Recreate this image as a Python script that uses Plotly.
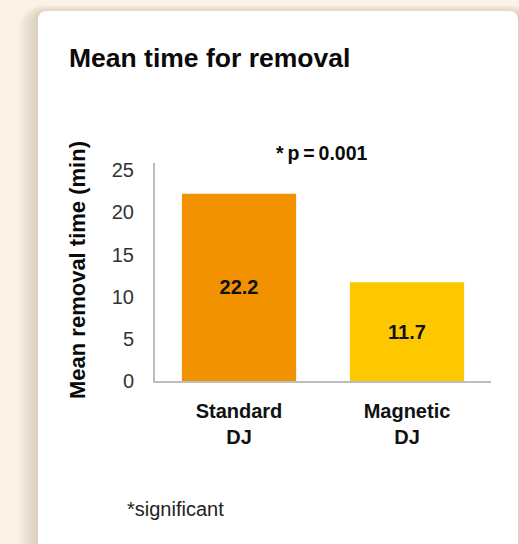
import plotly.graph_objects as go

# ---- data ----
categories = ["Standard DJ", "Magnetic DJ"]
tick_labels = ["<b>Standard</b><br><b>DJ</b>", "<b>Magnetic</b><br><b>DJ</b>"]
mean_time = [22.2, 11.7]
value_labels = ["<b>22.2</b>", "<b>11.7</b>"]
bar_colors = ["#F39200", "#FDC800"]
y_ticks = [0, 5, 10, 15, 20, 25]

title_text = "<b>Mean time for removal</b>"
y_title = "<b>Mean removal time (min)</b>"
p_text = "<b>*\u2009p\u2009=\u20090.001</b>"
note_text = "*significant"

# ---- geometry (pixels) ----
W, H = 519, 544
L, R, T, B = 155, 491, 163, 381


def px(x):
    return (x - L) / (R - L)


def py(y):
    return (B - y) / (B - T)


def rounded_path(x0, y0, x1, y1, r):
    pts = [
        f"M {px(x0)},{py(y1)}",
        f"L {px(x0)},{py(y0 + r)}",
        f"Q {px(x0)},{py(y0)} {px(x0 + r)},{py(y0)}",
        f"L {px(x1 - r)},{py(y0)}",
        f"Q {px(x1)},{py(y0)} {px(x1)},{py(y0 + r)}",
        f"L {px(x1)},{py(y1)}",
        "Z",
    ]
    return " ".join(pts)


FONT = "Liberation Sans, Arial, Helvetica, sans-serif"

fig = go.Figure()
fig.add_trace(go.Bar(
    x=categories,
    y=mean_time,
    marker=dict(color=bar_colors, line=dict(width=0)),
    width=0.68,
    text=value_labels,
    textposition="inside",
    insidetextanchor="middle",
    textangle=0,
    constraintext="none",
    textfont=dict(family=FONT, size=20, color="#111111"),
    hoverinfo="skip",
))

shapes = []
# soft shadow of the card
for k in range(8, 0, -1):
    e = k * 2.5
    shapes.append(dict(
        type="path", xref="paper", yref="paper", layer="below",
        path=rounded_path(38 - e, 11 - e * 0.4 + 2, 518 + e, H + 40, 9 + e),
        fillcolor="rgba(160,130,90,0.04)", line=dict(width=0),
    ))
# white card
shapes.append(dict(
    type="path", xref="paper", yref="paper", layer="below",
    path=rounded_path(38, 11, 518, H + 40, 9),
    fillcolor="#FFFFFF", line=dict(width=0),
))

annotations = [
    dict(text=title_text, xref="paper", yref="paper", x=px(67), y=py(58),
         xanchor="left", yanchor="middle", showarrow=False,
         font=dict(family=FONT, size=26.5, color="#0A0A0A")),
    dict(text=y_title, xref="paper", yref="paper", x=px(77), y=py(270),
         xanchor="center", yanchor="middle", showarrow=False, textangle=-90,
         font=dict(family=FONT, size=22, color="#0A0A0A")),
    dict(text=p_text, xref="paper", yref="paper", x=px(322), y=py(153),
         xanchor="center", yanchor="middle", showarrow=False,
         font=dict(family=FONT, size=19.5, color="#0A0A0A")),
    dict(text=note_text, xref="paper", yref="paper", x=px(125), y=py(509),
         xanchor="left", yanchor="middle", showarrow=False,
         font=dict(family=FONT, size=20, color="#222222")),
]

fig.update_layout(
    width=W, height=H,
    margin=dict(l=L, r=W - R, t=T, b=H - B, pad=0),
    paper_bgcolor="#FBF3E6",
    plot_bgcolor="rgba(0,0,0,0)",
    showlegend=False,
    shapes=shapes,
    annotations=annotations,
    xaxis=dict(
        type="category",
        range=[-0.5, 1.5],
        tickvals=categories,
        ticktext=tick_labels,
        showline=True, linecolor="#BDBDBD", linewidth=2,
        ticks="outside", ticklen=11, tickcolor="rgba(0,0,0,0)",
        tickfont=dict(family=FONT, size=20, color="#111111"),
        showgrid=False, zeroline=False,
    ),
    yaxis=dict(
        range=[0, 25.86],
        tickvals=y_ticks,
        showline=True, linecolor="#BDBDBD", linewidth=2,
        ticks="outside", ticklen=15, tickcolor="rgba(0,0,0,0)",
        tickfont=dict(family=FONT, size=20, color="#333333"),
        showgrid=False, zeroline=False,
    ),
)

fig.write_html("out.html", config={"displayModeBar": False},
               post_script="document.body.style.margin='0';")
